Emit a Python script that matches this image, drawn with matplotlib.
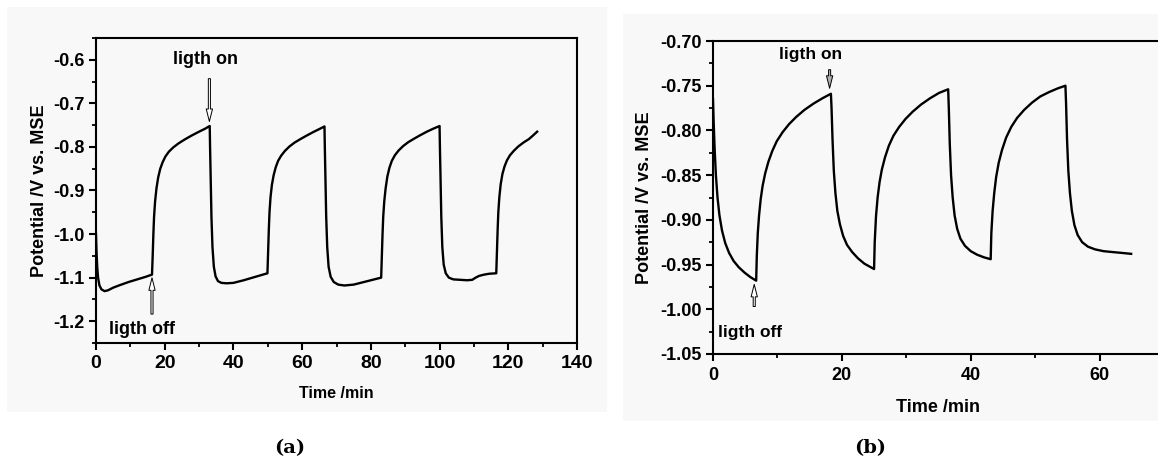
import matplotlib.pyplot as plt
from matplotlib.patches import Rectangle
from matplotlib.ticker import MultipleLocator

# panel (a): potential vs time, light on/off cycles
time_a = [0, 0.15, 0.35, 0.6, 1.0, 1.6, 2.5, 3.5, 5, 7, 9.5, 12, 14.5, 16.3,
          16.5, 16.7, 16.9, 17.2, 17.6, 18.1, 18.7, 19.4, 20.2, 21.2, 22.5, 24, 25.8, 27.8, 30, 31.8, 33.1,
          33.2, 33.4, 33.6, 33.9, 34.3, 34.8, 35.5, 36.5, 38, 40, 43, 46, 49.9,
          50.1, 50.3, 50.5, 50.8, 51.2, 51.7, 52.3, 53, 53.9, 55, 56.3, 57.8, 59.5, 61.3, 63.2, 65, 66.5,
          66.6, 66.8, 67.0, 67.3, 67.7, 68.3, 69.2, 70.5, 72.3, 75, 78, 81, 83.0,
          83.2, 83.4, 83.6, 83.9, 84.3, 84.8, 85.4, 86.1, 87, 88.1, 89.4, 90.9, 92.6, 94.4, 96.3, 98.2, 100,
          100.1, 100.3, 100.5, 100.8, 101.2, 101.8, 102.7, 104, 106, 108, 109.5, 110.5, 111.5, 113, 114.5, 116.5,
          116.7, 116.9, 117.1, 117.4, 117.8, 118.3, 118.9, 119.6, 120.5, 121.6, 122.9, 124.4, 126, 127.3, 128.4]
pot_a = [-1.00, -1.04, -1.075, -1.10, -1.118, -1.127, -1.131, -1.129, -1.123, -1.117, -1.11, -1.104, -1.098, -1.093,
         -1.05, -1.0, -0.96, -0.925, -0.895, -0.87, -0.85, -0.835, -0.822, -0.811, -0.801, -0.792, -0.783, -0.774, -0.765, -0.758, -0.752,
         -0.80, -0.88, -0.96, -1.03, -1.075, -1.097, -1.108, -1.112, -1.113, -1.112, -1.106, -1.099, -1.090,
         -1.04, -0.99, -0.95, -0.915, -0.887, -0.865, -0.847, -0.832, -0.82, -0.809, -0.799, -0.79, -0.782, -0.774, -0.766, -0.759, -0.753,
         -0.80, -0.88, -0.96, -1.03, -1.075, -1.098, -1.11, -1.116, -1.118, -1.116, -1.11, -1.104, -1.10,
         -1.05, -1.0, -0.96, -0.925, -0.895, -0.868, -0.848, -0.832, -0.819, -0.808, -0.798, -0.789, -0.781, -0.773, -0.765, -0.758, -0.752,
         -0.80, -0.88, -0.96, -1.03, -1.07, -1.09, -1.10, -1.104, -1.105, -1.106, -1.105, -1.10, -1.096, -1.093, -1.091, -1.090,
         -1.04, -0.99, -0.95, -0.915, -0.885, -0.862, -0.845, -0.831, -0.819, -0.809, -0.799, -0.79, -0.782, -0.773, -0.765]

# panel (b)
time_b = [0, 0.1, 0.25, 0.45, 0.7, 1.0, 1.4, 1.9, 2.5, 3.2, 4.0, 4.9, 5.8, 6.7,
          6.8, 6.95, 7.15, 7.4, 7.7, 8.1, 8.6, 9.2, 9.9, 10.8, 11.8, 12.9, 14.2, 15.6, 17, 18.3,
          18.4, 18.55, 18.75, 19.0, 19.3, 19.7, 20.2, 20.8, 21.6, 22.5, 23.5, 24.5, 25.0,
          25.1, 25.3, 25.55, 25.85, 26.2, 26.7, 27.3, 28, 28.9, 29.9, 31, 32.3, 33.7, 35.1, 36.5,
          36.6, 36.75, 36.95, 37.2, 37.5, 37.9, 38.4, 39.1, 40, 41, 42.1, 43.1,
          43.2, 43.4, 43.65, 43.95, 44.35, 44.85, 45.5, 46.3, 47.2, 48.3, 49.5, 50.8, 52.2, 53.5, 54.7,
          54.8, 54.95, 55.15, 55.4, 55.7, 56.1, 56.6, 57.3, 58.2, 59.3, 60.6, 62, 63.5, 64.9]
pot_b = [-0.765, -0.79, -0.82, -0.85, -0.875, -0.895, -0.912, -0.926, -0.937, -0.946, -0.953, -0.959, -0.964, -0.968,
         -0.94, -0.915, -0.895, -0.877, -0.862, -0.848, -0.835, -0.823, -0.812, -0.802, -0.793, -0.785, -0.777, -0.77, -0.764, -0.759,
         -0.775, -0.81, -0.845, -0.87, -0.89, -0.905, -0.918, -0.928, -0.936, -0.943, -0.949, -0.953, -0.955,
         -0.925, -0.896, -0.875, -0.858, -0.844, -0.83, -0.817, -0.806, -0.796, -0.787, -0.779, -0.771, -0.764, -0.758, -0.754,
         -0.775, -0.815, -0.85, -0.875, -0.895, -0.91, -0.921, -0.929, -0.935, -0.939, -0.942, -0.944,
         -0.915, -0.89, -0.87, -0.852, -0.836, -0.822, -0.808, -0.796, -0.786, -0.777, -0.769, -0.762, -0.757, -0.753, -0.750,
         -0.77, -0.81, -0.845, -0.87, -0.89, -0.906, -0.917, -0.925, -0.93, -0.933, -0.935, -0.936, -0.937, -0.938]

FONT = 'Liberation Sans'
BG = '#f8f8f8'

fig = plt.figure(figsize=(11.58, 4.71), dpi=100)
fig.patch.set_facecolor('white')
W, H = 1158.0, 471.0
# light gray panels behind each graph
fig.patches.append(Rectangle((7 / W, 1 - 412 / H), 600 / W, 405 / H, transform=fig.transFigure,
                             facecolor=BG, edgecolor='none', zorder=-5))
fig.patches.append(Rectangle((623 / W, 1 - 421 / H), 535 / W, 407 / H, transform=fig.transFigure,
                             facecolor=BG, edgecolor='none', zorder=-5))

ax1 = fig.add_axes([96 / W, 1 - 343 / H, 481 / W, 305 / H])
ax2 = fig.add_axes([713 / W, 1 - 354 / H, 451 / W, 313 / H])


def style_axes(ax, xsize, ysize):
    ax.set_facecolor(BG)
    for sp in ax.spines.values():
        sp.set_linewidth(1.5)
    ax.tick_params(which='major', direction='out', length=5, width=1.5, top=False, right=False)
    ax.tick_params(which='minor', direction='out', length=3, width=1.3, top=False, right=False)
    ax.tick_params(axis='x', labelsize=xsize, pad=4)
    ax.tick_params(axis='y', labelsize=ysize, pad=3)
    for lab in ax.get_xticklabels() + ax.get_yticklabels():
        lab.set_fontweight('bold')
        lab.set_fontfamily(FONT)


# --- panel a ---
ax1.plot(time_a, pot_a, color='black', lw=1.7)
ax1.set_xlim(0, 140)
ax1.xaxis.set_major_locator(MultipleLocator(20))
ax1.xaxis.set_minor_locator(MultipleLocator(10))
ax1.set_yticks([-1.2, -1.1, -1.0, -0.9, -0.8, -0.7, -0.6])
ax1.set_yticklabels(['%.1f' % v for v in ax1.get_yticks()])
ax1.yaxis.set_minor_locator(MultipleLocator(0.05))
ax1.set_ylim(-1.25, -0.55)
style_axes(ax1, 14, 13)
ax1.set_xlabel('Time /min', fontsize=11.5, fontweight='bold', family=FONT, labelpad=10)
ax1.set_ylabel('Potential /V vs. MSE', fontsize=13, fontweight='bold', family=FONT, labelpad=4)

arrow_kw = dict(arrowstyle='simple,head_width=0.45,head_length=0.9,tail_width=0.15',
                fc='white', ec='black', lw=0.7)
ax1.annotate('', xy=(33.0, -0.748), xytext=(33.0, -0.637), arrowprops=arrow_kw)
ax1.annotate('', xy=(16.3, -1.094), xytext=(16.3, -1.19), arrowprops=arrow_kw)
ax1.text(32, -0.6, 'ligth on', ha='center', va='center', fontsize=13, fontweight='bold', family=FONT)
ax1.text(13.3, -1.22, 'ligth off', ha='center', va='center', fontsize=13, fontweight='bold', family=FONT)

# --- panel b ---
ax2.plot(time_b, pot_b, color='black', lw=1.7)
ax2.set_xlim(0, 70)
ax2.xaxis.set_major_locator(MultipleLocator(20))
ax2.xaxis.set_minor_locator(MultipleLocator(10))
ax2.set_yticks([-1.05, -1.00, -0.95, -0.90, -0.85, -0.80, -0.75, -0.70])
ax2.set_yticklabels(['%.2f' % v for v in ax2.get_yticks()])
ax2.yaxis.set_minor_locator(MultipleLocator(0.025))
ax2.set_ylim(-1.05, -0.70)
style_axes(ax2, 13, 13)
ax2.set_xlabel('Time /min', fontsize=13, fontweight='bold', family=FONT, labelpad=11)
ax2.set_ylabel('Potential /V vs. MSE', fontsize=13, fontweight='bold', family=FONT, labelpad=5)

arrow_on_b = dict(arrow_kw, fc='#b0b0b0')
ax2.annotate('', xy=(18.1, -0.756), xytext=(18.1, -0.729), arrowprops=arrow_on_b)
ax2.annotate('', xy=(6.4, -0.969), xytext=(6.4, -1.0), arrowprops=arrow_kw)
ax2.text(15.1, -0.715, 'ligth on', ha='center', va='center', fontsize=12.5, fontweight='bold', family=FONT)
ax2.text(0.7, -1.026, 'ligth off', ha='left', va='center', fontsize=12.5, fontweight='bold', family=FONT)

fig.text(290 / W, 1 - 448 / H, '(a)', ha='center', va='center', fontsize=14, fontweight='bold',
         family='DejaVu Serif')
fig.text(870 / W, 1 - 448 / H, '(b)', ha='center', va='center', fontsize=14, fontweight='bold',
         family='DejaVu Serif')

fig.savefig('out.png', dpi=100, facecolor='white')
